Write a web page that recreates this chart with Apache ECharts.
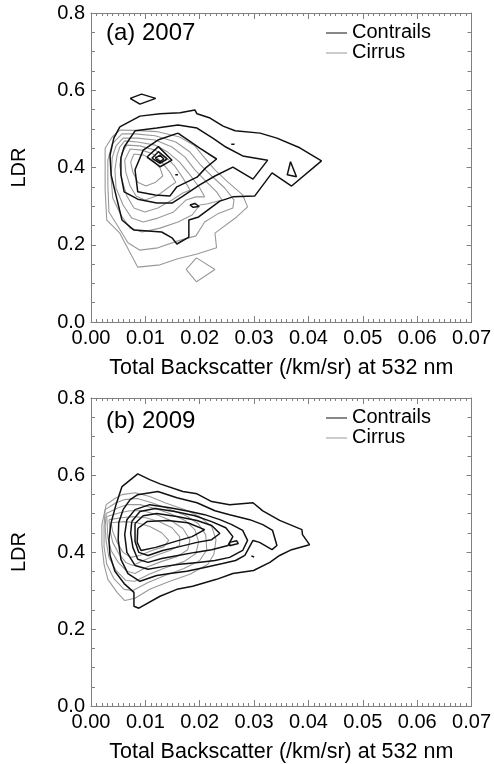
<!DOCTYPE html>
<html>
<head>
<meta charset="utf-8">
<script src="https://cdn.jsdelivr.net/npm/echarts@6/dist/echarts.min.js"></script>
<style>
  html, body { margin: 0; padding: 0; background: #fff; }
  #chart { width: 494px; height: 764px; }
</style>
</head>
<body>
<div id="chart"></div>
<script>
// Axis ranges and labels
const xRange = [0, 0.07];
const yRange = [0, 0.8];
const xStep = 0.01;
const yStep = 0.2;
const xTitle = 'Total Backscatter (/km/sr) at 532 nm';
const yTitle = 'LDR';
const panelLabels = ['(a) 2007', '(b) 2009'];
const seriesNames = ['Contrails', 'Cirrus'];

// 2007 contrail contours: closed rings of [backscatter, LDR]
const contrails2007 = [
  [[0.0053,0.505],[0.0090,0.533],[0.0127,0.539],[0.0164,0.542],[0.0191,0.549],[0.0195,0.539],[0.0219,0.528],[0.0243,0.507],[0.0265,0.495],[0.0311,0.489],[0.0342,0.476],[0.0384,0.451],[0.0424,0.417],[0.0369,0.352],[0.0333,0.386],[0.0301,0.326],[0.0261,0.324],[0.0237,0.313],[0.0198,0.272],[0.0180,0.264],[0.0180,0.220],[0.0158,0.202],[0.0149,0.218],[0.0130,0.233],[0.0079,0.238],[0.0057,0.264],[0.0048,0.316],[0.0037,0.381],[0.0035,0.432],[0.0042,0.476]],
  [[0.0061,0.453],[0.0081,0.495],[0.0121,0.502],[0.0160,0.510],[0.0195,0.502],[0.0224,0.476],[0.0248,0.453],[0.0279,0.430],[0.0325,0.419],[0.0298,0.370],[0.0261,0.401],[0.0228,0.378],[0.0200,0.355],[0.0167,0.324],[0.0149,0.308],[0.0121,0.308],[0.0086,0.318],[0.0061,0.337],[0.0055,0.381],[0.0055,0.425]],
  [[0.0160,0.489],[0.0200,0.450],[0.0231,0.422],[0.0211,0.399],[0.0195,0.375],[0.0158,0.350],[0.0145,0.326],[0.0118,0.329],[0.0086,0.337],[0.0081,0.394],[0.0096,0.445],[0.0123,0.471]],
  [[0.0103,0.427],[0.0124,0.454],[0.0149,0.419],[0.0127,0.402]],
  [[0.0112,0.424],[0.0124,0.441],[0.0140,0.422],[0.0127,0.411]],
  [[0.0118,0.424],[0.0127,0.432],[0.0134,0.422],[0.0127,0.415]],
  [[0.0155,0.381],[0.0157,0.384],[0.0160,0.381],[0.0157,0.378]],
  [[0.0258,0.460],[0.0261,0.463],[0.0264,0.460],[0.0261,0.457]],
  [[0.0182,0.303],[0.0191,0.307],[0.0199,0.299],[0.0188,0.297]],
  [[0.0072,0.579],[0.0093,0.590],[0.0119,0.579],[0.0090,0.564]],
  [[0.0367,0.415],[0.0378,0.376],[0.0361,0.381]]
];

// 2007 cirrus contours
const cirrus2007 = [
  [[0.0053,0.497],[0.0077,0.496],[0.0121,0.493],[0.0163,0.479],[0.0191,0.456],[0.0209,0.425],[0.0228,0.394],[0.0252,0.362],[0.0279,0.329],[0.0288,0.298],[0.0268,0.272],[0.0228,0.230],[0.0231,0.192],[0.0195,0.176],[0.0158,0.163],[0.0127,0.148],[0.0086,0.142],[0.0053,0.230],[0.0029,0.264],[0.0026,0.342],[0.0026,0.394],[0.0026,0.450],[0.0039,0.479]],
  [[0.0057,0.487],[0.0081,0.487],[0.0118,0.482],[0.0156,0.466],[0.0182,0.440],[0.0200,0.409],[0.0222,0.378],[0.0246,0.347],[0.0263,0.316],[0.0261,0.295],[0.0233,0.280],[0.0209,0.259],[0.0193,0.223],[0.0160,0.210],[0.0123,0.192],[0.0090,0.186],[0.0068,0.205],[0.0048,0.251],[0.0033,0.285],[0.0031,0.355],[0.0031,0.419],[0.0039,0.461]],
  [[0.0059,0.476],[0.0085,0.476],[0.0118,0.471],[0.0149,0.453],[0.0173,0.427],[0.0191,0.394],[0.0213,0.362],[0.0231,0.337],[0.0241,0.316],[0.0215,0.306],[0.0200,0.303],[0.0186,0.277],[0.0160,0.259],[0.0127,0.243],[0.0094,0.233],[0.0072,0.243],[0.0055,0.277],[0.0040,0.321],[0.0037,0.373],[0.0039,0.425],[0.0046,0.456]],
  [[0.0062,0.469],[0.0086,0.466],[0.0118,0.458],[0.0141,0.440],[0.0163,0.414],[0.0182,0.381],[0.0200,0.347],[0.0209,0.324],[0.0193,0.324],[0.0175,0.316],[0.0152,0.285],[0.0123,0.269],[0.0096,0.259],[0.0075,0.269],[0.0059,0.303],[0.0046,0.347],[0.0044,0.394],[0.0048,0.432],[0.0053,0.453]],
  [[0.0066,0.458],[0.0090,0.456],[0.0118,0.445],[0.0138,0.427],[0.0154,0.404],[0.0169,0.373],[0.0182,0.342],[0.0169,0.334],[0.0149,0.316],[0.0123,0.295],[0.0099,0.285],[0.0079,0.295],[0.0066,0.326],[0.0057,0.368],[0.0053,0.406],[0.0057,0.438]],
  [[0.0072,0.448],[0.0094,0.445],[0.0114,0.435],[0.0130,0.414],[0.0145,0.388],[0.0156,0.362],[0.0141,0.347],[0.0121,0.326],[0.0099,0.316],[0.0083,0.326],[0.0072,0.352],[0.0064,0.388],[0.0062,0.419]],
  [[0.0079,0.435],[0.0097,0.432],[0.0114,0.419],[0.0127,0.399],[0.0132,0.378],[0.0119,0.362],[0.0101,0.352],[0.0086,0.362],[0.0077,0.388],[0.0073,0.414]],
  [[0.0175,0.136],[0.0194,0.166],[0.0228,0.136],[0.0194,0.104]]
];

// 2009 contrail contours
const contrails2009 = [
  [[0.0057,0.570],[0.0086,0.603],[0.0108,0.588],[0.0127,0.577],[0.0169,0.557],[0.0195,0.551],[0.0222,0.531],[0.0255,0.523],[0.0298,0.528],[0.0316,0.507],[0.0347,0.482],[0.0388,0.458],[0.0389,0.445],[0.0402,0.419],[0.0369,0.406],[0.0347,0.391],[0.0329,0.373],[0.0299,0.352],[0.0261,0.344],[0.0231,0.329],[0.0187,0.311],[0.0158,0.303],[0.0127,0.285],[0.0088,0.254],[0.0079,0.259],[0.0079,0.295],[0.0061,0.318],[0.0044,0.350],[0.0035,0.391],[0.0033,0.432],[0.0037,0.476],[0.0046,0.523]],
  [[0.0059,0.510],[0.0072,0.536],[0.0086,0.549],[0.0123,0.557],[0.0158,0.541],[0.0195,0.528],[0.0228,0.507],[0.0255,0.497],[0.0292,0.484],[0.0316,0.471],[0.0334,0.456],[0.0342,0.417],[0.0333,0.406],[0.0310,0.425],[0.0298,0.430],[0.0283,0.391],[0.0266,0.378],[0.0242,0.370],[0.0209,0.360],[0.0176,0.350],[0.0145,0.344],[0.0121,0.339],[0.0090,0.324],[0.0068,0.344],[0.0055,0.381],[0.0050,0.432],[0.0051,0.476]],
  [[0.0066,0.484],[0.0081,0.510],[0.0108,0.523],[0.0145,0.515],[0.0182,0.505],[0.0209,0.497],[0.0237,0.484],[0.0259,0.471],[0.0279,0.456],[0.0288,0.430],[0.0279,0.404],[0.0255,0.386],[0.0228,0.378],[0.0197,0.373],[0.0163,0.368],[0.0132,0.362],[0.0105,0.355],[0.0081,0.365],[0.0066,0.399],[0.0062,0.445]],
  [[0.0075,0.479],[0.0090,0.505],[0.0118,0.513],[0.0154,0.505],[0.0191,0.494],[0.0222,0.479],[0.0248,0.463],[0.0261,0.440],[0.0252,0.417],[0.0222,0.406],[0.0191,0.399],[0.0160,0.391],[0.0130,0.383],[0.0105,0.373],[0.0086,0.381],[0.0077,0.412],[0.0073,0.448]],
  [[0.0081,0.474],[0.0096,0.494],[0.0121,0.500],[0.0158,0.492],[0.0195,0.482],[0.0222,0.469],[0.0237,0.448],[0.0222,0.432],[0.0195,0.425],[0.0163,0.414],[0.0132,0.404],[0.0105,0.391],[0.0088,0.399],[0.0081,0.427]],
  [[0.0086,0.461],[0.0103,0.479],[0.0141,0.482],[0.0178,0.476],[0.0209,0.458],[0.0186,0.440],[0.0154,0.427],[0.0119,0.412],[0.0092,0.404],[0.0085,0.425]],
  [[0.0255,0.425],[0.0268,0.429],[0.0271,0.422],[0.0255,0.416]],
  [[0.0295,0.390],[0.0298,0.394],[0.0300,0.387]]
];

// 2009 cirrus contours
const cirrus2009 = [
  [[0.0028,0.523],[0.0044,0.539],[0.0057,0.549],[0.0081,0.554],[0.0108,0.544],[0.0136,0.528],[0.0173,0.510],[0.0200,0.492],[0.0222,0.466],[0.0230,0.432],[0.0226,0.394],[0.0215,0.368],[0.0182,0.342],[0.0145,0.324],[0.0108,0.303],[0.0081,0.280],[0.0062,0.274],[0.0048,0.295],[0.0031,0.329],[0.0024,0.368],[0.0020,0.419],[0.0020,0.471]],
  [[0.0026,0.510],[0.0046,0.528],[0.0061,0.536],[0.0085,0.539],[0.0112,0.528],[0.0141,0.513],[0.0175,0.494],[0.0197,0.474],[0.0211,0.445],[0.0213,0.406],[0.0200,0.378],[0.0171,0.357],[0.0136,0.339],[0.0105,0.321],[0.0077,0.300],[0.0061,0.303],[0.0042,0.331],[0.0029,0.368],[0.0024,0.414],[0.0024,0.466]],
  [[0.0028,0.500],[0.0050,0.515],[0.0066,0.523],[0.0090,0.523],[0.0118,0.513],[0.0145,0.500],[0.0173,0.482],[0.0191,0.458],[0.0198,0.427],[0.0193,0.396],[0.0171,0.375],[0.0138,0.360],[0.0107,0.342],[0.0081,0.324],[0.0064,0.326],[0.0046,0.352],[0.0033,0.386],[0.0028,0.427],[0.0026,0.466]],
  [[0.0029,0.492],[0.0053,0.502],[0.0072,0.507],[0.0096,0.507],[0.0121,0.497],[0.0147,0.482],[0.0169,0.461],[0.0182,0.432],[0.0178,0.406],[0.0158,0.388],[0.0129,0.375],[0.0101,0.360],[0.0081,0.344],[0.0066,0.350],[0.0050,0.373],[0.0037,0.404],[0.0031,0.438]],
  [[0.0033,0.484],[0.0057,0.489],[0.0077,0.492],[0.0101,0.489],[0.0125,0.479],[0.0149,0.463],[0.0163,0.440],[0.0163,0.417],[0.0145,0.404],[0.0119,0.391],[0.0096,0.378],[0.0077,0.365],[0.0064,0.373],[0.0051,0.396],[0.0040,0.425],[0.0035,0.456]],
  [[0.0037,0.476],[0.0061,0.479],[0.0085,0.476],[0.0108,0.466],[0.0130,0.450],[0.0143,0.430],[0.0134,0.414],[0.0112,0.404],[0.0090,0.391],[0.0073,0.386],[0.0059,0.399],[0.0048,0.425],[0.0040,0.453]]
];

const FONT = '"Liberation Sans", Arial, Helvetica, sans-serif';
const FRAME = '#808080';
const INK = '#000000';
const CONTRAIL_COLOR = '#111111';
const CIRRUS_COLOR = '#999999';

const grids = [
  { left: 91, top: 13, width: 381, height: 309 },
  { left: 91, top: 398, width: 381, height: 309 }
];

function xAxisFor(gridIndex, position) {
  const bottom = position === 'bottom';
  return {
    type: 'value', gridIndex, position,
    min: xRange[0], max: xRange[1], interval: xStep,
    axisLine: { show: true, onZero: false, lineStyle: { color: FRAME, width: 1 } },
    axisTick: { show: true, inside: true, length: 6, lineStyle: { color: FRAME, width: 1 } },
    minorTick: { show: true, splitNumber: 10, length: 3, lineStyle: { color: FRAME, width: 1 } },
    splitLine: { show: false },
    axisLabel: {
      show: bottom, margin: 6, color: INK, fontSize: 20, fontFamily: FONT,
      formatter: v => v.toFixed(2)
    },
    name: bottom ? xTitle : '',
    nameLocation: 'middle', nameGap: 35,
    nameTextStyle: { color: INK, fontSize: 21.5, fontFamily: FONT }
  };
}

function yAxisFor(gridIndex, position) {
  const left = position === 'left';
  return {
    type: 'value', gridIndex, position,
    min: yRange[0], max: yRange[1], interval: yStep,
    axisLine: { show: true, onZero: false, lineStyle: { color: FRAME, width: 1 } },
    axisTick: { show: true, inside: true, length: 5, lineStyle: { color: FRAME, width: 1 } },
    minorTick: { show: true, splitNumber: 4, length: 4, lineStyle: { color: FRAME, width: 1 } },
    splitLine: { show: false },
    axisLabel: {
      show: left, margin: 6, color: INK, fontSize: 20, fontFamily: FONT,
      formatter: v => v.toFixed(1)
    },
    name: left ? yTitle : '',
    nameLocation: 'middle', nameGap: 62, nameRotate: 90,
    nameTextStyle: { color: INK, fontSize: 20, fontFamily: FONT }
  };
}

function ringSeries(ring, panel, name, color, width) {
  return {
    type: 'line', name,
    xAxisIndex: panel * 2, yAxisIndex: panel * 2,
    data: ring.concat([ring[0]]),
    symbol: 'none', showSymbol: false, silent: true, animation: false,
    lineStyle: { color, width }
  };
}

const panels = [
  { contrails: contrails2007, cirrus: cirrus2007 },
  { contrails: contrails2009, cirrus: cirrus2009 }
];

const series = [];
panels.forEach((p, i) => {
  p.cirrus.forEach(r => series.push(ringSeries(r, i, seriesNames[1], CIRRUS_COLOR, 1.1)));
  p.contrails.forEach(r => series.push(ringSeries(r, i, seriesNames[0], CONTRAIL_COLOR, 1.5)));
});

// Panel tags and key, placed inside each plot frame
const labelY = [33, 421];
const keyY = [[33, 53], [418, 438]];
const graphic = [];
panelLabels.forEach((txt, i) => {
  graphic.push({
    type: 'text', x: 106, y: labelY[i], silent: true,
    style: { text: txt, fill: INK, fontSize: 24, fontFamily: FONT, verticalAlign: 'middle', align: 'left' }
  });
  seriesNames.forEach((nm, k) => {
    const y = keyY[i][k];
    graphic.push({
      type: 'line', silent: true,
      shape: { x1: 326, y1: y, x2: 347, y2: y },
      style: { stroke: k === 0 ? CONTRAIL_COLOR : CIRRUS_COLOR, lineWidth: 1 }
    });
    graphic.push({
      type: 'text', x: 352, y: y - 1, silent: true,
      style: { text: nm, fill: INK, fontSize: 20, fontFamily: FONT, verticalAlign: 'middle', align: 'left' }
    });
  });
});

const chart = echarts.init(document.getElementById('chart'), null, { renderer: 'canvas' });
chart.setOption({
  backgroundColor: '#ffffff',
  animation: false,
  grid: grids,
  xAxis: [xAxisFor(0, 'bottom'), xAxisFor(0, 'top'), xAxisFor(1, 'bottom'), xAxisFor(1, 'top')],
  yAxis: [yAxisFor(0, 'left'), yAxisFor(0, 'right'), yAxisFor(1, 'left'), yAxisFor(1, 'right')],
  series,
  graphic
});
</script>
</body>
</html>
